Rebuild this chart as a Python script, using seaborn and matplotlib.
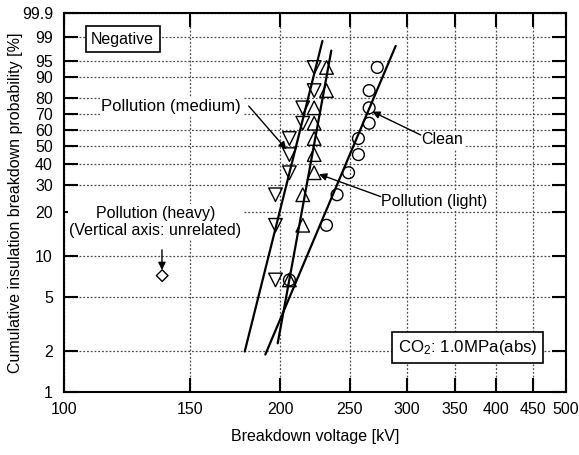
import numpy as np
import pandas as pd
import matplotlib
matplotlib.use("Agg")
import matplotlib.pyplot as plt
from matplotlib.ticker import FixedLocator, FixedFormatter, NullLocator
import seaborn as sns

# ---------------- data ----------------
prob_levels = [6.7, 16.3, 26.0, 35.6, 45.2, 54.8, 64.4, 74.0, 83.7, 93.3]

clean_kv = [206, 232, 240, 249, 257, 257, 266, 266, 266, 273]
clean_prob = prob_levels

light_kv = [206, 215, 215, 223, 223, 223, 223, 223, 232, 232]
light_prob = prob_levels

medium_kv = [197, 197, 197, 206, 206, 206, 215, 215, 223, 223]
medium_prob = prob_levels

heavy_kv = [137]
heavy_prob = [7.2]

# Weibull fit lines (end points)
medium_fit_kv = [178.5, 229.0]
medium_fit_prob = [2.0, 98.6]
light_fit_kv = [198.4, 235.6]
light_fit_prob = [2.3, 97.3]
clean_fit_kv = [190.7, 289.6]
clean_fit_prob = [1.9, 98.0]

x_ticks = [100, 150, 200, 250, 300, 350, 400, 450, 500]
y_ticks = [1, 2, 5, 10, 20, 30, 40, 50, 60, 70, 80, 90, 95, 99, 99.9]
y_tick_labels = ["1", "2", "5", "10", "20", "30", "40", "50", "60", "70",
                 "80", "90", "95", "99", "99.9"]

# ---------------- style ----------------
sns.set_style("ticks")
plt.rcParams["font.family"] = ["Liberation Sans", "DejaVu Sans"]
plt.rcParams["mathtext.fontset"] = "custom"
plt.rcParams["mathtext.rm"] = "Liberation Sans"
plt.rcParams["mathtext.it"] = "Liberation Sans:italic"
for key in ["text.color", "axes.labelcolor", "xtick.color", "ytick.color",
            "xtick.labelcolor", "ytick.labelcolor"]:
    plt.rcParams[key] = "black"

FS = 11.5

fig = plt.figure(figsize=(5.79, 4.55), dpi=100)
ax = fig.add_axes([64 / 579, 1 - 392 / 455, 502 / 579, 379 / 455])


def fwd(p):
    p = np.clip(np.asarray(p, dtype=float), 1e-6, 100 - 1e-6)
    return np.log(-np.log(1 - p / 100.0))


def inv(w):
    w = np.asarray(w, dtype=float)
    return 100.0 * (1 - np.exp(-np.exp(w)))


ax.set_xscale("log")
ax.set_yscale("function", functions=(fwd, inv))

# ---------------- fit lines ----------------
for kv, pr in [(medium_fit_kv, medium_fit_prob),
               (light_fit_kv, light_fit_prob),
               (clean_fit_kv, clean_fit_prob)]:
    sns.lineplot(x=kv, y=pr, ax=ax, color="black", lw=1.6,
                 estimator=None, sort=False, zorder=3)

# ---------------- markers ----------------
sns.scatterplot(x=medium_kv, y=medium_prob, ax=ax, marker="v", s=95,
                facecolor="none", edgecolor="black", linewidth=1.0, zorder=4)
sns.scatterplot(x=light_kv, y=light_prob, ax=ax, marker="^", s=95,
                facecolor="none", edgecolor="black", linewidth=1.0, zorder=4)
sns.scatterplot(x=clean_kv, y=clean_prob, ax=ax, marker="o", s=72,
                facecolor="none", edgecolor="black", linewidth=1.0, zorder=4)
sns.scatterplot(x=heavy_kv, y=heavy_prob, ax=ax, marker="D", s=35,
                facecolor="none", edgecolor="black", linewidth=1.0, zorder=4)

# ---------------- axes ----------------
ax.set_xlim(100, 500)
ax.set_ylim(1, 99.9)
ax.xaxis.set_major_locator(FixedLocator(x_ticks))
ax.xaxis.set_major_formatter(FixedFormatter([str(t) for t in x_ticks]))
ax.xaxis.set_minor_locator(NullLocator())
ax.yaxis.set_major_locator(FixedLocator(y_ticks))
ax.yaxis.set_major_formatter(FixedFormatter(y_tick_labels))
ax.yaxis.set_minor_locator(NullLocator())

ax.grid(True, which="major", color="0.3", lw=0.9, ls=(0, (1.5, 1.5)))
ax.tick_params(axis="both", which="major", direction="in", length=10,
               width=1.5, top=True, right=True, labelsize=FS, color="black",
               labelcolor="black")
ax.tick_params(axis="x", pad=7)
ax.tick_params(axis="y", pad=8)
for sp in ax.spines.values():
    sp.set_linewidth(1.5)
    sp.set_color("black")
    sp.set_zorder(6)

ax.set_xlabel("Breakdown voltage [kV]", fontsize=FS, labelpad=9,
              color="black")
ax.set_ylabel("Cumulative insulation breakdown probability [%]", fontsize=FS,
              color="black")
ax.yaxis.set_label_coords(-0.082, 0.5)

# ---------------- annotations ----------------
white = dict(boxstyle="square,pad=0.1", fc="white", ec="none")
arrow = dict(arrowstyle="-|>", color="black", lw=1.0, mutation_scale=11,
             shrinkA=0, shrinkB=0)

ax.text(141, 74.8, "Pollution (medium)", fontsize=12, ha="center",
        va="center", bbox=white, zorder=5)
ax.annotate("", xy=(204, 48.3), xytext=(180.8, 75.1), arrowprops=arrow,
            zorder=5)

ax.text(336, 53.9, "Clean", fontsize=FS, ha="center", va="center",
        bbox=white, zorder=5)
ax.annotate("", xy=(268.7, 71.7), xytext=(313.8, 57.0), arrowprops=arrow,
            zorder=5)

ax.text(328, 23.5, "Pollution (light)", fontsize=FS, ha="center",
        va="center", bbox=white, zorder=5)
ax.annotate("", xy=(226.5, 34.9), xytext=(276, 25.3), arrowprops=arrow,
            zorder=5)

ax.text(134, 17.2, "Pollution (heavy)\n(Vertical axis: unrelated)",
        fontsize=FS, ha="center", va="center", linespacing=1.15,
        bbox=white, zorder=5)
ax.annotate("", xy=(136.9, 7.9), xytext=(136.9, 11.0), arrowprops=arrow,
            zorder=5)

box = dict(boxstyle="square,pad=0.35", fc="white", ec="black", lw=1.2)
ax.text(0.054, 0.931, "Negative", transform=ax.transAxes, fontsize=FS,
        ha="left", va="center", bbox=box, zorder=7)
ax.text(0.665, 0.117, "CO$_2$: 1.0MPa(abs)", transform=ax.transAxes,
        fontsize=12.2, ha="left", va="center", bbox=box, zorder=7)

fig.savefig("out.png", dpi=100)
